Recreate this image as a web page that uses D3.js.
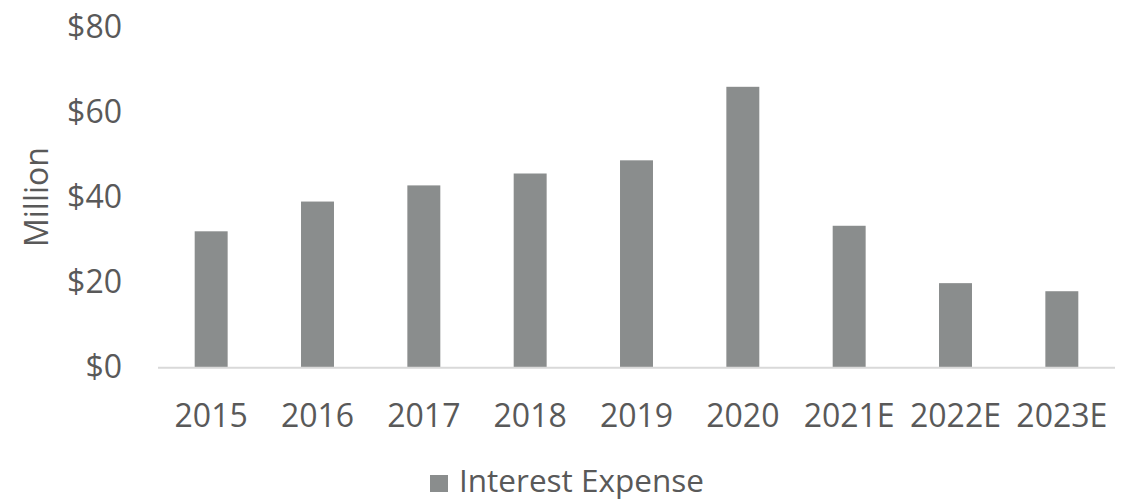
<!DOCTYPE html>
<html>
<head>
<meta charset="utf-8">
<script src="https://cdn.jsdelivr.net/npm/d3@7"></script>
<style>
  html, body { margin: 0; padding: 0; background: #ffffff; }
  svg { display: block; }
  text { font-family: "Open Sans", "Noto Sans", sans-serif; fill: #595959; }
</style>
</head>
<body>
<svg id="chart" width="1124" height="500"></svg>
<script>
// Interest expense by year, in $ million (E = estimate)
const years = ["2015", "2016", "2017", "2018", "2019", "2020", "2021E", "2022E", "2023E"];
const interestExpense = [32, 39, 42.8, 45.6, 48.7, 66, 33.3, 19.8, 17.9];
const yTicks = [0, 20, 40, 60, 80];
const seriesName = "Interest Expense";
const axisTitle = "Million";

const svg = d3.select("#chart");
const plot = { left: 158, right: 1115, top: 27.3, bottom: 367.3 };
const barColor = "#8a8d8d";

const x = d3.scaleBand()
  .domain(years)
  .range([plot.left, plot.right])
  .paddingInner(0.69)
  .paddingOuter(0.345);

const y = d3.scaleLinear()
  .domain([0, 80])
  .range([plot.bottom, plot.top]);

// bars
svg.append("g")
  .selectAll("rect")
  .data(years.map((c, i) => ({ c, v: interestExpense[i] })))
  .join("rect")
  .attr("x", d => x(d.c))
  .attr("y", d => y(d.v))
  .attr("width", x.bandwidth())
  .attr("height", d => y(0) - y(d.v))
  .attr("fill", barColor);

// baseline
svg.append("line")
  .attr("x1", plot.left).attr("x2", plot.right)
  .attr("y1", y(0) + 0.5).attr("y2", y(0) + 0.5)
  .attr("stroke", "#d9d9d9")
  .attr("stroke-width", 2);

// y axis labels (no line, no ticks)
const yAxis = d3.axisLeft(y)
  .tickValues(yTicks)
  .tickFormat(d => "$" + d)
  .tickSize(0)
  .tickPadding(0);
const gy = svg.append("g")
  .attr("transform", `translate(122,0)`)
  .call(yAxis);
gy.select(".domain").remove();
gy.selectAll("text")
  .attr("font-size", 32)
  .attr("fill", "#595959")
  .style("font-family", "'Open Sans', sans-serif");

// x axis labels
const xAxis = d3.axisBottom(x).tickSize(0).tickPadding(0);
const gx = svg.append("g")
  .attr("transform", `translate(0,${y(0)})`)
  .call(xAxis);
gx.select(".domain").remove();
gx.selectAll("text")
  .attr("dy", null)
  .attr("y", 59.5)
  .attr("font-size", 32)
  .attr("fill", "#595959")
  .style("font-family", "'Open Sans', sans-serif");

// y axis title
svg.append("text")
  .attr("transform", `translate(48,197) rotate(-90)`)
  .attr("text-anchor", "middle")
  .attr("font-size", 32)
  .text(axisTitle);

// legend
const legend = svg.append("g");
legend.append("rect")
  .attr("x", 430).attr("y", 475)
  .attr("width", 18).attr("height", 17)
  .attr("fill", barColor);
legend.append("text")
  .attr("x", 459).attr("y", 491.5)
  .attr("font-size", 31.5)
  .text(seriesName);
</script>
</body>
</html>
